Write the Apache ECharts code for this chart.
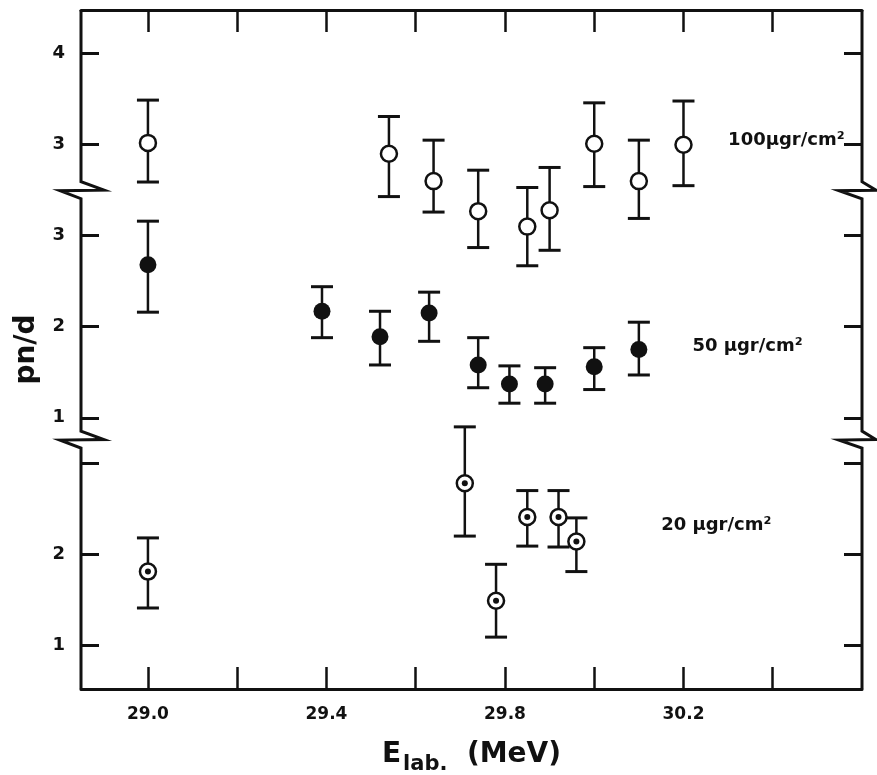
<!DOCTYPE html>
<html>
<head>
<meta charset="utf-8">
<script src="https://cdn.jsdelivr.net/npm/echarts@6/dist/echarts.min.js"></script>
<style>
  html, body { margin: 0; padding: 0; background: #fff; }
  #chart { width: 877px; height: 775px; }
</style>
</head>
<body>
<div id="chart"></div>
<script>
// 100 μgr/cm² (open circles)
const energy100 = [29.0, 29.54, 29.64, 29.74, 29.85, 29.90, 30.0, 30.1, 30.2]
const pnd100 = [3.02, 2.90, 2.60, 2.27, 2.10, 2.28, 3.01, 2.60, 3.00]
const hi100 = [3.49, 3.31, 3.05, 2.72, 2.53, 2.75, 3.46, 3.05, 3.48]
const lo100 = [2.59, 2.43, 2.26, 1.87, 1.67, 1.84, 2.54, 2.19, 2.55]

// 50 μgr/cm² (filled circles)
const energy50 = [29.0, 29.39, 29.52, 29.63, 29.74, 29.81, 29.89, 30.0, 30.1]
const pnd50 = [2.68, 2.17, 1.89, 2.15, 1.58, 1.37, 1.37, 1.56, 1.75]
const hi50 = [3.16, 2.44, 2.17, 2.38, 1.88, 1.57, 1.55, 1.77, 2.05]
const lo50 = [2.16, 1.88, 1.58, 1.84, 1.33, 1.16, 1.16, 1.31, 1.47]

// 20 μgr/cm² (dotted circles)
const energy20 = [29.0, 29.71, 29.78, 29.85, 29.92, 29.96]
const pnd20 = [1.81, 2.78, 1.49, 2.41, 2.41, 2.14]
const hi20 = [2.18, 3.40, 1.89, 2.70, 2.70, 2.40]
const lo20 = [1.41, 2.20, 1.09, 2.09, 2.08, 1.81]

// axis ticks
const xTicks = [29.0, 29.2, 29.4, 29.6, 29.8, 30.0, 30.2, 30.4]
const xTickLabels = [29.0, 29.4, 29.8, 30.2]
// broken y axis: each panel is shifted on one shared axis
const yTickPos = [1, 2, 3, 3.5, 4.5, 5.5, 6.5, 7.5]
const yTickText = ['1', '2', '', '1', '2', '3', '3', '4']
const panelLabels = ['100μgr/cm²', '50 μgr/cm²', '20 μgr/cm²']

const X_MIN = 28.85, X_MAX = 30.6, Y_MIN = 0.52, Y_MAX = 7.98
const OFF100 = 3.5, OFF50 = 2.5, OFF20 = 0
const BREAKS = [6.0, 3.26]
const FONT = 'DejaVu Sans'

function points(xs, ys, off) {
  return xs.map((x, i) => [x, ys[i] + off])
}
function bars(xs, lo, hi, off) {
  return xs.map((x, i) => [x, lo[i] + off, hi[i] + off])
}

function renderErr(params, api) {
  const x = api.value(0)
  const a = api.coord([x, api.value(1)])
  const b = api.coord([x, api.value(2)])
  const w = 11
  const style = { stroke: '#111', lineWidth: 3 }
  return {
    type: 'group',
    children: [
      { type: 'line', shape: { x1: a[0], y1: a[1], x2: b[0], y2: b[1] }, style: { stroke: '#111', lineWidth: 2.5 } },
      { type: 'line', shape: { x1: a[0] - w, y1: a[1], x2: a[0] + w, y2: a[1] }, style },
      { type: 'line', shape: { x1: b[0] - w, y1: b[1], x2: b[0] + w, y2: b[1] }, style }
    ]
  }
}

// left / right frame with the zigzag break marks
function renderFrame(params, api) {
  const top = api.coord([X_MIN, Y_MAX])[1]
  const bot = api.coord([X_MIN, Y_MIN])[1]
  const xl = api.coord([X_MIN, Y_MIN])[0]
  const xr = api.coord([X_MAX, Y_MIN])[0]
  const ys = BREAKS.map(b => api.coord([X_MIN, b])[1])
  function side(x, out, inn) {
    const pts = [[x, top]]
    ys.forEach(y => {
      pts.push([x, y - 8.5], [x + out, y], [x + inn, y + 0.5], [x, y + 8.5])
    })
    pts.push([x, bot])
    return { type: 'polyline', shape: { points: pts }, style: { stroke: '#111', lineWidth: 3, fill: null, lineJoin: 'miter' } }
  }
  return {
    type: 'group',
    children: [side(xl, 23, -21), side(xr, 14, -23)]
  }
}

const labelPos = [[30.30, 3.05 + OFF100], [30.22, 1.78 + OFF50], [30.15, 2.32 + OFF20]]

const chart = echarts.init(document.getElementById('chart'))
const tickStyle = { color: '#111', width: 3 }
const option = {
  backgroundColor: '#fff',
  animation: false,
  grid: { left: 81, right: 15, top: 10, bottom: 86, outerBoundsMode: 'none' },
  xAxis: [
    {
      type: 'value',
      min: X_MIN,
      max: X_MAX,
      position: 'bottom',
      axisLine: { lineStyle: { color: '#111', width: 3 } },
      axisTick: { inside: true, length: 22, customValues: xTicks, lineStyle: { color: '#111', width: 2.5 } },
      axisLabel: {
        customValues: xTickLabels,
        formatter: v => v.toFixed(1),
        color: '#111',
        fontFamily: FONT,
        fontWeight: 'bold',
        fontSize: 17,
        margin: 17
      },
      splitLine: { show: false },
      name: '{e|E}{s|lab.}{m|  (MeV)}',
      nameLocation: 'middle',
      nameGap: 46,
      nameTextStyle: {
        rich: {
          e: { fontFamily: FONT, fontWeight: 'bold', fontSize: 28, color: '#111', lineHeight: 40, verticalAlign: 'middle' },
          s: { fontFamily: FONT, fontWeight: 'bold', fontSize: 21, color: '#111', lineHeight: 40, verticalAlign: 'bottom', padding: [0, 0, 0, 2] },
          m: { fontFamily: FONT, fontWeight: 'bold', fontSize: 28, color: '#111', lineHeight: 40, verticalAlign: 'middle' }
        }
      }
    },
    {
      type: 'value',
      min: X_MIN,
      max: X_MAX,
      position: 'top',
      axisLine: { lineStyle: { color: '#111', width: 3 } },
      axisTick: { inside: true, length: 22, customValues: xTicks, lineStyle: { color: '#111', width: 2.5 } },
      axisLabel: { show: false },
      splitLine: { show: false }
    }
  ],
  yAxis: [
    {
      type: 'value',
      min: Y_MIN,
      max: Y_MAX,
      position: 'left',
      axisLine: { show: false },
      axisTick: { show: true, inside: true, length: 18, customValues: yTickPos, lineStyle: tickStyle },
      axisLabel: {
        customValues: yTickPos,
        formatter: v => {
          const i = yTickPos.findIndex(p => Math.abs(p - v) < 1e-6)
          return i >= 0 ? yTickText[i] : ''
        },
        color: '#111',
        fontFamily: FONT,
        fontWeight: 'bold',
        fontSize: 18,
        margin: 16
      },
      splitLine: { show: false },
      name: 'pn/d',
      nameLocation: 'middle',
      nameRotate: 90,
      nameGap: 40,
      nameTextStyle: { fontFamily: FONT, fontWeight: 'bold', fontSize: 28, color: '#111' }
    },
    {
      type: 'value',
      min: Y_MIN,
      max: Y_MAX,
      position: 'right',
      axisLine: { show: false },
      axisTick: { show: true, inside: true, length: 18, customValues: yTickPos, lineStyle: tickStyle },
      axisLabel: { show: false },
      splitLine: { show: false }
    }
  ],
  series: [
    {
      type: 'custom',
      name: 'frame',
      renderItem: renderFrame,
      data: [[X_MIN, Y_MIN]],
      clip: false,
      silent: true,
      z: 1
    },
    { type: 'custom', name: 'err100', renderItem: renderErr, data: bars(energy100, lo100, hi100, OFF100), z: 2 },
    { type: 'custom', name: 'err50', renderItem: renderErr, data: bars(energy50, lo50, hi50, OFF50), z: 2 },
    { type: 'custom', name: 'err20', renderItem: renderErr, data: bars(energy20, lo20, hi20, OFF20), z: 2 },
    {
      type: 'scatter',
      name: '100',
      data: points(energy100, pnd100, OFF100),
      symbol: 'circle',
      symbolSize: 16,
      itemStyle: { color: '#fff', borderColor: '#111', borderWidth: 2.5, opacity: 1 },
      z: 3
    },
    {
      type: 'scatter',
      name: '50',
      data: points(energy50, pnd50, OFF50),
      symbol: 'circle',
      symbolSize: 17,
      itemStyle: { color: '#111', opacity: 1 },
      z: 3
    },
    {
      type: 'scatter',
      name: '20',
      data: points(energy20, pnd20, OFF20),
      symbol: 'circle',
      symbolSize: 16,
      itemStyle: { color: '#fff', borderColor: '#111', borderWidth: 2.5, opacity: 1 },
      z: 3
    },
    {
      type: 'scatter',
      name: '20dot',
      data: points(energy20, pnd20, OFF20),
      symbol: 'circle',
      symbolSize: 6,
      itemStyle: { color: '#111', opacity: 1 },
      z: 4
    },
    {
      type: 'scatter',
      name: 'labels',
      data: labelPos.map((p, i) => ({ value: p, name: panelLabels[i] })),
      symbolSize: 0,
      silent: true,
      itemStyle: { opacity: 1, color: '#111' },
      label: {
        show: true,
        position: 'right',
        distance: 0,
        formatter: p => p.name,
        color: '#111',
        opacity: 1,
        fontFamily: FONT,
        fontWeight: 'bold',
        fontSize: 18
      },
      z: 5
    }
  ]
}
chart.setOption(option)
</script>
</body>
</html>
